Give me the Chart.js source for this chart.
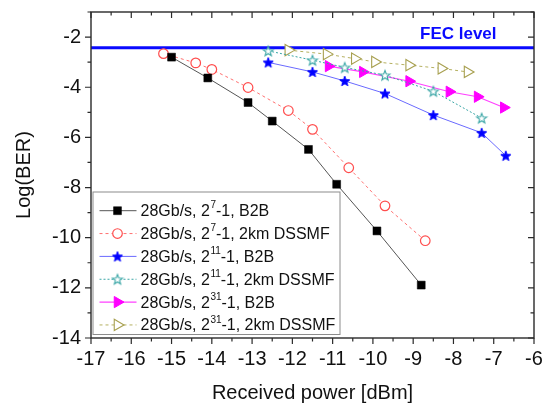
<!DOCTYPE html>
<html><head><meta charset="utf-8">
<script src="https://cdn.jsdelivr.net/npm/chart.js@4/dist/chart.umd.min.js"></script>
<style>html,body{margin:0;padding:0;background:#fff;overflow:hidden}#wrap{width:544px;height:405px}</style>
</head><body><div id="wrap"><canvas id="c" width="544" height="405"></canvas></div>
<script>
// ---- data ----
const xTicks = [-17,-16,-15,-14,-13,-12,-11,-10,-9,-8,-7,-6];
const yTicks = [-14,-12,-10,-8,-6,-4,-2];
const xTitle = 'Received power [dBm]';
const yTitle = 'Log(BER)';
const fecText = 'FEC level';
const fecLevel = -2.43;
const fecX = [-17, -6];

const nameBase = ['28Gb/s, 2','28Gb/s, 2','28Gb/s, 2','28Gb/s, 2','28Gb/s, 2','28Gb/s, 2'];
const nameExp  = ['7','7','11','11','31','31'];
const nameTail = ['-1, B2B','-1, 2km DSSMF','-1, B2B','-1, 2km DSSMF','-1, B2B','-1, 2km DSSMF'];

const s7b2bX  = [-15.0,-14.1,-13.1,-12.5,-11.6,-10.9,-9.9,-8.8];
const s7b2bY  = [-2.80,-3.63,-4.61,-5.35,-6.48,-7.87,-9.73,-11.89];
const s7fibX  = [-15.2,-14.4,-14.0,-13.1,-12.1,-11.5,-10.6,-9.7,-8.7];
const s7fibY  = [-2.66,-3.03,-3.29,-4.01,-4.93,-5.68,-7.21,-8.73,-10.12];
const s11b2bX = [-12.6,-11.5,-10.7,-9.7,-8.5,-7.3,-6.7];
const s11b2bY = [-3.01,-3.39,-3.75,-4.25,-5.11,-5.82,-6.73];
const s11fibX = [-12.6,-11.5,-10.7,-9.7,-8.5,-7.3];
const s11fibY = [-2.55,-2.92,-3.21,-3.52,-4.16,-5.23];
const s31b2bX = [-11.1,-10.25,-9.1,-8.1,-7.4,-6.75];
const s31b2bY = [-3.16,-3.39,-3.76,-4.18,-4.38,-4.81];
const s31fibX = [-12.1,-11.15,-10.45,-9.95,-9.1,-8.3,-7.65];
const s31fibY = [-2.52,-2.68,-2.86,-2.99,-3.12,-3.25,-3.39];

// ---- helpers ----
function pts(xs, ys){ return xs.map((x,i)=>({x:x, y:ys[i]})); }
function makeStar(r, fill, stroke, lw){
  const s = Math.ceil(2*r+lw+2);
  const cv = document.createElement('canvas'); cv.width = s; cv.height = s;
  const g = cv.getContext('2d');
  const c = s/2, ri = r*0.42;
  g.beginPath();
  for (let i=0;i<10;i++){
    const a = -Math.PI/2 + i*Math.PI/5;
    const rr = (i%2===0)? r : ri;
    const px = c + rr*Math.cos(a), py = c + rr*Math.sin(a) + 0.5;
    if (i===0) g.moveTo(px,py); else g.lineTo(px,py);
  }
  g.closePath();
  g.fillStyle = fill; g.fill();
  g.lineWidth = lw; g.strokeStyle = stroke; g.stroke();
  return cv;
}
const starBlue = makeStar(5.3, '#0000ff', '#0000ff', 1);
const starTeal = makeStar(5.3, '#ffffff', '#3aa6a6', 1.1);

const FONT = "'Liberation Sans', Arial, sans-serif";

const datasets = [
  {data: pts(s7b2bX,s7b2bY), borderColor:'#555555', borderWidth:1, pointStyle:'rect', pointRadius:5.6, pointBackgroundColor:'#000', pointBorderColor:'#000', pointBorderWidth:0.5},
  {data: pts(s7fibX,s7fibY), borderColor:'#ff7070', borderWidth:1, borderDash:[3,3], pointStyle:'circle', pointRadius:4.8, pointBackgroundColor:'#fff', pointBorderColor:'#ff4d4d', pointBorderWidth:1.2},
  {data: pts(s11b2bX,s11b2bY), borderColor:'#6a6aff', borderWidth:1, pointStyle:starBlue, pointRadius:6, pointBackgroundColor:'#00f', pointBorderColor:'#00f'},
  {data: pts(s11fibX,s11fibY), borderColor:'#3aa6a6', borderWidth:1, borderDash:[2,2], pointStyle:starTeal, pointRadius:6, pointBackgroundColor:'#fff', pointBorderColor:'#3aa6a6'},
  {data: pts(s31b2bX,s31b2bY), borderColor:'#ff40ff', borderWidth:1.2, pointStyle:'triangle', pointRotation:90, pointRadius:6.5, pointBackgroundColor:'#ff00ff', pointBorderColor:'#ff00ff', pointBorderWidth:1},
  {data: pts(s31fibX,s31fibY), borderColor:'#b5b060', borderWidth:1, borderDash:[3,3], pointStyle:'triangle', pointRotation:90, pointRadius:6.5, pointBackgroundColor:'#fff', pointBorderColor:'#a8a050', pointBorderWidth:1.1},
  {data: fecX.map(x=>({x:x, y:fecLevel})), borderColor:'#0a0aff', borderWidth:3, pointRadius:0}
].map((d,i)=>Object.assign({showLine:true, fill:false, tension:0, label: i<6 ? nameBase[i]+nameExp[i]+nameTail[i] : fecText}, d));

const framePlugin = {
  id:'frame',
  afterDraw(chart){
    const ctx = chart.ctx, a = chart.chartArea;
    const xs = chart.scales.x, ys = chart.scales.y;
    ctx.save();
    ctx.strokeStyle = '#2a2a2a'; ctx.lineWidth = 1.4;
    ctx.strokeRect(a.left, a.top, a.right-a.left, a.bottom-a.top);
    ctx.lineWidth = 1.2;
    ctx.beginPath();
    for (let v = xTicks[0]; v <= xTicks[xTicks.length-1]+1e-9; v += 0.5){
      const p = xs.getPixelForValue(v);
      const major = Math.abs(v - Math.round(v)) < 1e-9;
      const L = major ? 6 : 3.5;
      ctx.moveTo(p, a.bottom); ctx.lineTo(p, a.bottom + L);
      ctx.moveTo(p, a.top); ctx.lineTo(p, a.top + L);
    }
    for (let v = -14; v <= -1 + 1e-9; v += 1){
      const p = ys.getPixelForValue(v);
      const major = (v % 2 === 0);
      const L = major ? 6 : 3.5;
      ctx.moveTo(a.left, p); ctx.lineTo(a.left - L, p);
      ctx.moveTo(a.right, p); ctx.lineTo(a.right - L, p);
    }
    ctx.stroke();

    ctx.fillStyle = '#0a0aff';
    ctx.font = "bold 17px " + FONT;
    ctx.textAlign = 'right'; ctx.textBaseline = 'middle';
    ctx.fillText(fecText, xs.getPixelForValue(-6.93), ys.getPixelForValue(-1.89));

    const bx = a.left + 1.5, by = a.bottom - 146.5, bw = 247, bh = 142.5;
    ctx.fillStyle = '#fff';
    ctx.fillRect(bx, by, bw, bh);
    ctx.strokeStyle = '#8c8c8c'; ctx.lineWidth = 1;
    ctx.strokeRect(bx+0.5, by+0.5, bw, bh);
    const ds = chart.data.datasets;
    for (let i=0;i<6;i++){
      const d = ds[i];
      const cy = by + 19.2 + i*22.85;
      ctx.save();
      ctx.strokeStyle = d.borderColor; ctx.lineWidth = d.borderWidth;
      ctx.setLineDash(d.borderDash || []);
      ctx.beginPath(); ctx.moveTo(bx+7, cy); ctx.lineTo(bx+44, cy); ctx.stroke();
      ctx.setLineDash([]);
      ctx.fillStyle = d.pointBackgroundColor; ctx.strokeStyle = d.pointBorderColor;
      ctx.lineWidth = d.pointBorderWidth || 1;
      Chart.helpers.drawPoint(ctx, {pointStyle:d.pointStyle, rotation:d.pointRotation||0, radius:d.pointRadius, borderWidth:d.pointBorderWidth||0}, bx+25, cy);
      ctx.restore();
      ctx.fillStyle = '#111';
      ctx.textAlign = 'left'; ctx.textBaseline = 'middle';
      ctx.font = "16px " + FONT;
      let tx = bx + 48;
      ctx.fillText(nameBase[i], tx, cy+1); tx += ctx.measureText(nameBase[i]).width;
      ctx.font = "10px " + FONT;
      ctx.fillText(nameExp[i], tx+0.5, cy-5); tx += ctx.measureText(nameExp[i]).width + 0.5;
      ctx.font = "16px " + FONT;
      ctx.fillText(nameTail[i], tx, cy+1);
    }
    ctx.restore();
  }
};

new Chart(document.getElementById('c'), {
  type:'scatter',
  data:{datasets:datasets},
  options:{
    responsive:false, animation:false, devicePixelRatio:1,
    layout:{padding:{top:12, right:10, left:0, bottom:0}},
    plugins:{legend:{display:false}, tooltip:{enabled:false}},
    scales:{
      x:{type:'linear', min:-17, max:-6,
        afterBuildTicks(s){ s.ticks = xTicks.map(v=>({value:v})); },
        afterFit(s){ s.height = 67; s.paddingLeft = 0; s.paddingRight = 0; },
        grid:{display:false, drawTicks:false}, border:{display:false},
        ticks:{color:'#111', padding:9, font:{family:FONT, size:20}, maxRotation:0, autoSkip:false},
        title:{display:true, text:xTitle, color:'#111', font:{family:FONT, size:20}, padding:{top:0,bottom:0}}
      },
      y:{type:'linear', min:-14, max:-1,
        afterBuildTicks(s){ s.ticks = yTicks.map(v=>({value:v})); },
        afterFit(s){ s.width = 91; s.paddingTop = 0; s.paddingBottom = 0; },
        grid:{display:false, drawTicks:false}, border:{display:false},
        ticks:{color:'#111', padding:10, font:{family:FONT, size:20}, autoSkip:false},
        title:{display:true, text:yTitle, color:'#111', font:{family:FONT, size:20}, padding:{top:12,bottom:0}}
      }
    }
  },
  plugins:[framePlugin]
});
</script></body></html>
